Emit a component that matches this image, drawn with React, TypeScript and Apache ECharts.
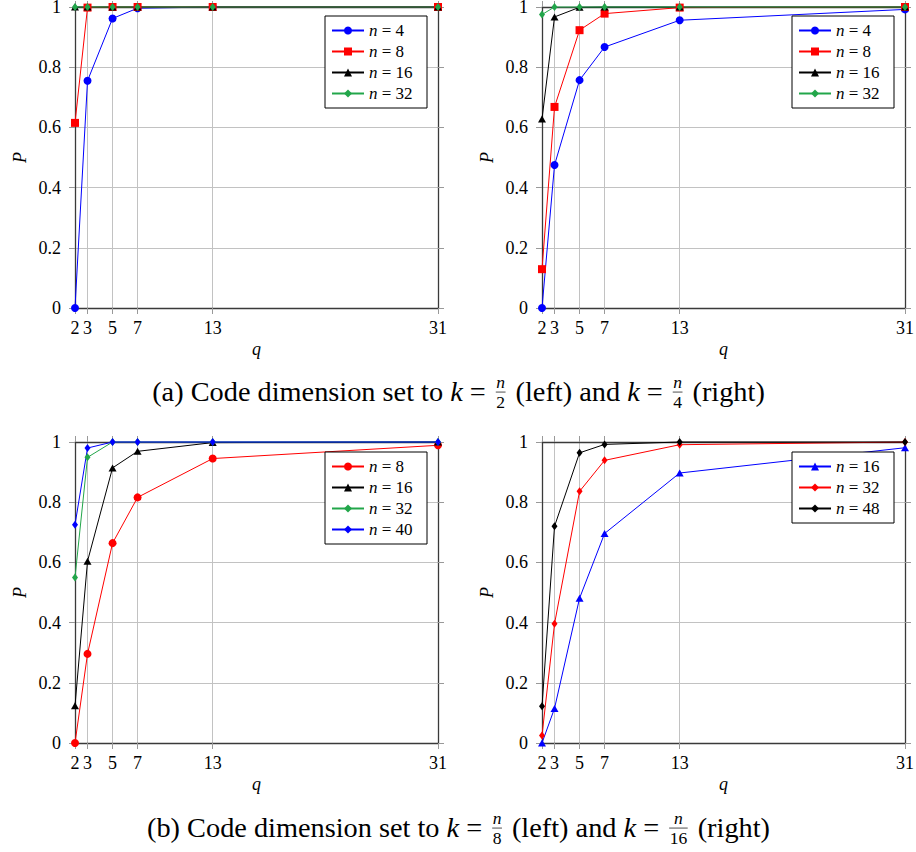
import React, { useEffect, useRef } from 'react';
import * as echarts from 'echarts';

// ---------- data ----------
const qValues = [2, 3, 5, 7, 13, 31];

// (a) left: k = n/2
const halfN4 = [0, 0.755, 0.962, 0.996, 1, 1];
const halfN8 = [0.615, 0.998, 1, 1, 1, 1];
const halfN16 = [1, 1, 1, 1, 1, 1];
const halfN32 = [1, 1, 1, 1, 1, 1];

// (a) right: k = n/4
const quarterN4 = [0, 0.475, 0.757, 0.867, 0.956, 0.992];
const quarterN8 = [0.129, 0.668, 0.923, 0.978, 0.998, 1];
const quarterN16 = [0.628, 0.967, 0.999, 1, 1, 1];
const quarterN32 = [0.975, 1, 1, 1, 1, 1];

// (b) left: k = n/8
const eighthN8 = [0, 0.296, 0.664, 0.816, 0.945, 0.989];
const eighthN16 = [0.124, 0.604, 0.914, 0.969, 0.998, 1];
const eighthN32 = [0.55, 0.949, 1, 1, 1, 1];
const eighthN40 = [0.725, 0.98, 1, 1, 1, 1];

// (b) right: k = n/16
const sixteenthN16 = [0, 0.115, 0.481, 0.696, 0.897, 0.981];
const sixteenthN32 = [0.025, 0.396, 0.836, 0.939, 0.991, 1];
const sixteenthN48 = [0.122, 0.72, 0.964, 0.992, 1, 1];

const captionA = ['(a)', 'Code dimension set to', 'k', 'n', '2', '(left) and', '4', '(right)'];
const captionB = ['(b)', 'Code dimension set to', 'k', 'n', '8', '(left) and', '16', '(right)'];

// ---------- styles ----------
const FONT = "'Liberation Serif', 'DejaVu Serif', serif";
const BLUE = '#0000ff';
const RED = '#ff0000';
const BLACK = '#000000';
const GREEN = '#22a64a';

type S = { n: string; values: number[]; color: string; symbol: string; size: number | number[] };

const panels: { key: string; left: number; top: number; legendLeft: number; legendTop: number; series: S[] }[] = [
  {
    key: 'a1', left: 75, top: 7, legendLeft: 325, legendTop: 16,
    series: [
      { n: '4', values: halfN4, color: BLUE, symbol: 'circle', size: 8 },
      { n: '8', values: halfN8, color: RED, symbol: 'rect', size: 8 },
      { n: '16', values: halfN16, color: BLACK, symbol: 'triangle', size: [8, 7] },
      { n: '32', values: halfN32, color: GREEN, symbol: 'diamond', size: [6, 8] },
    ],
  },
  {
    key: 'a2', left: 542, top: 7, legendLeft: 792, legendTop: 16,
    series: [
      { n: '4', values: quarterN4, color: BLUE, symbol: 'circle', size: 8 },
      { n: '8', values: quarterN8, color: RED, symbol: 'rect', size: 8 },
      { n: '16', values: quarterN16, color: BLACK, symbol: 'triangle', size: [8, 7] },
      { n: '32', values: quarterN32, color: GREEN, symbol: 'diamond', size: [6, 8] },
    ],
  },
  {
    key: 'b1', left: 75, top: 442, legendLeft: 325, legendTop: 452,
    series: [
      { n: '8', values: eighthN8, color: RED, symbol: 'circle', size: 8 },
      { n: '16', values: eighthN16, color: BLACK, symbol: 'triangle', size: [8, 7] },
      { n: '32', values: eighthN32, color: GREEN, symbol: 'diamond', size: [6, 8] },
      { n: '40', values: eighthN40, color: BLUE, symbol: 'diamond', size: [6, 8] },
    ],
  },
  {
    key: 'b2', left: 542, top: 442, legendLeft: 792, legendTop: 452,
    series: [
      { n: '16', values: sixteenthN16, color: BLUE, symbol: 'triangle', size: [8, 7] },
      { n: '32', values: sixteenthN32, color: RED, symbol: 'diamond', size: [6, 8] },
      { n: '48', values: sixteenthN48, color: BLACK, symbol: 'diamond', size: [6, 8] },
    ],
  },
];

const GRID_W = 363;
const GRID_H = 301;
const BOX = '#3a3a3a';
const TICK = '#999999';
const GRIDLINE = '#c2c2c2';
const SMALL = 0.62; // fraction font relative to caption font

let measureCtx: CanvasRenderingContext2D | null = null;
function measure(text: string, size: number, italic: boolean) {
  if (!measureCtx) measureCtx = document.createElement('canvas').getContext('2d')!;
  measureCtx.font = `${italic ? 'italic ' : ''}${size}px ${FONT}`;
  return measureCtx.measureText(text).width;
}

type Piece = { t?: string; it?: boolean; num?: string; den?: string };

function captionPieces(c: string[]): Piece[] {
  return [
    { t: `${c[0]} ${c[1]} ` },
    { t: c[2], it: true },
    { t: ' = ' },
    { num: c[3], den: c[4] },
    { t: ` ${c[5]} ` },
    { t: c[2], it: true },
    { t: ' = ' },
    { num: c[3], den: c[6] },
    { t: ` ${c[7]}` },
  ];
}

function pieceWidth(p: Piece, fs: number) {
  if (p.t !== undefined) return measure(p.t, fs, !!p.it);
  const sm = fs * SMALL;
  return Math.max(measure(p.num!, sm, true), measure(p.den!, sm, false)) + 0.24 * fs;
}

function captionGraphics(c: string[], fs: number, cx: number, my: number) {
  const pieces = captionPieces(c);
  const total = pieces.reduce((a, p) => a + pieceWidth(p, fs), 0);
  let x = cx - total / 2;
  const out: any[] = [];
  const sm = fs * SMALL;
  const barY = my + 0.02 * fs;
  const c1 = barY - 0.575 * sm;
  const c2 = c1 + 1.15 * sm;
  for (const p of pieces) {
    const w = pieceWidth(p, fs);
    if (p.t !== undefined) {
      out.push({
        type: 'text', x, y: my, silent: true,
        style: { text: p.t, fontSize: fs, fontFamily: FONT, fontStyle: p.it ? 'italic' : 'normal', fill: '#000', align: 'left', verticalAlign: 'middle' },
      });
    } else {
      const mid = x + w / 2;
      const inner = w - 0.24 * fs;
      out.push({
        type: 'text', x: mid, y: c1, silent: true,
        style: { text: p.num, fontSize: sm, fontFamily: FONT, fontStyle: 'italic', fill: '#000', align: 'center', verticalAlign: 'middle' },
      });
      out.push({
        type: 'line', silent: true,
        shape: { x1: mid - inner / 2 - 0.5, y1: barY, x2: mid + inner / 2 + 0.5, y2: barY },
        style: { stroke: '#000', lineWidth: 0.7 },
      });
      out.push({
        type: 'text', x: mid, y: c2, silent: true,
        style: { text: p.den, fontSize: sm, fontFamily: FONT, fill: '#000', align: 'center', verticalAlign: 'middle' },
      });
    }
    x += w;
  }
  return out;
}

function buildOption() {
  const grid: any[] = [];
  const xAxis: any[] = [];
  const yAxis: any[] = [];
  const series: any[] = [];
  const legend: any[] = [];

  panels.forEach((p, gi) => {
    grid.push({ left: p.left, top: p.top, width: GRID_W, height: GRID_H, containLabel: false, outerBoundsMode: 'none' });
    // bottom x axis
    xAxis.push({
      type: 'value', gridIndex: gi, position: 'bottom', min: 2, max: 31,
      name: 'q', nameLocation: 'middle', nameGap: 32, nameMoveOverlap: false,
      nameTextStyle: { fontFamily: FONT, fontStyle: 'italic', fontSize: 18, color: '#000' },
      axisLine: { show: true, onZero: false, lineStyle: { color: BOX, width: 1.3 } },
      axisTick: { show: true, inside: false, length: 6, customValues: qValues, lineStyle: { color: TICK, width: 1 } },
      axisLabel: { show: true, margin: 11, customValues: qValues, fontFamily: FONT, fontSize: 18, color: '#000' },
      splitLine: { show: true, lineStyle: { color: GRIDLINE, width: 1 } },
      z: 3,
    });
    // top x axis (ticks only)
    xAxis.push({
      type: 'value', gridIndex: gi, position: 'top', min: 2, max: 31,
      axisLine: { show: true, onZero: false, lineStyle: { color: BOX, width: 1.3 } },
      axisTick: { show: true, inside: false, length: 6, customValues: qValues, lineStyle: { color: TICK, width: 1 } },
      axisLabel: { show: false, customValues: qValues },
      splitLine: { show: false },
      z: 3,
    });
    // left y axis
    yAxis.push({
      type: 'value', gridIndex: gi, position: 'left', min: 0, max: 1, interval: 0.2,
      name: 'P', nameLocation: 'middle', nameGap: 46, nameRotate: 90, nameMoveOverlap: false,
      nameTextStyle: { fontFamily: FONT, fontStyle: 'italic', fontSize: 18, color: '#000' },
      axisLine: { show: true, onZero: false, lineStyle: { color: BOX, width: 1.3 } },
      axisTick: { show: true, inside: false, length: 6, lineStyle: { color: TICK, width: 1 } },
      axisLabel: { show: true, margin: 14, fontFamily: FONT, fontSize: 18, lineHeight: 13, color: '#000' },
      splitLine: { show: true, lineStyle: { color: GRIDLINE, width: 1 } },
      z: 3,
    });
    // right y axis (ticks only)
    yAxis.push({
      type: 'value', gridIndex: gi, position: 'right', min: 0, max: 1, interval: 0.2,
      axisLine: { show: true, onZero: false, lineStyle: { color: BOX, width: 1.3 } },
      axisTick: { show: true, inside: false, length: 6, lineStyle: { color: TICK, width: 1 } },
      axisLabel: { show: false },
      splitLine: { show: false },
      z: 3,
    });

    const names: string[] = [];
    p.series.forEach((s) => {
      const name = `${p.key}|${s.n}`;
      names.push(name);
      series.push({
        type: 'line', name, xAxisIndex: gi * 2, yAxisIndex: gi * 2,
        data: qValues.map((q, i) => [q, s.values[i]]),
        symbol: s.symbol, symbolSize: s.size, showSymbol: true, clip: false,
        lineStyle: { color: s.color, width: 1 },
        itemStyle: { color: s.color, borderWidth: 0 },
        emphasis: { disabled: true },
        z: 4,
      });
    });
    legend.push({
      show: true, left: p.legendLeft, top: p.legendTop, orient: 'vertical',
      itemWidth: 32, itemHeight: 10, itemGap: 0, padding: [4, 6, 4, 6],
      borderColor: '#000', borderWidth: 1, backgroundColor: '#fff', borderRadius: 0,
      selectedMode: false, data: names, z: 10,
      formatter: (name: string) => `{i|n} = ${name.split('|')[1]}`,
      textStyle: {
        fontFamily: FONT, fontSize: 17, color: '#000', lineHeight: 21, width: 52,
        rich: { i: { fontFamily: FONT, fontStyle: 'italic', fontSize: 17, color: '#000', lineHeight: 21 } },
      },
    });
  });

  // caption font fitted to the reference caption width
  const base = 20;
  const wBase = captionPieces(captionA).reduce((a, p) => a + pieceWidth(p, base), 0);
  const fs = base * (613 / wBase);

  const graphic = [
    ...captionGraphics(captionA, fs, 458.5, 391.5),
    ...captionGraphics(captionB, fs, 458.5, 827.5),
  ];

  return {
    animation: false,
    backgroundColor: '#fff',
    textStyle: { fontFamily: FONT },
    grid, xAxis, yAxis, series, legend, graphic,
  };
}

export default function App() {
  const ref = useRef<HTMLDivElement>(null);
  useEffect(() => {
    const el = ref.current!;
    const chart = echarts.init(el, null, { renderer: 'svg', width: 916, height: 852 });
    chart.setOption(buildOption() as any);
    return () => chart.dispose();
  }, []);
  return (
    <div
      ref={ref}
      style={{ position: 'fixed', left: 0, top: 0, width: 916, height: 852, background: '#fff' }}
    />
  );
}
